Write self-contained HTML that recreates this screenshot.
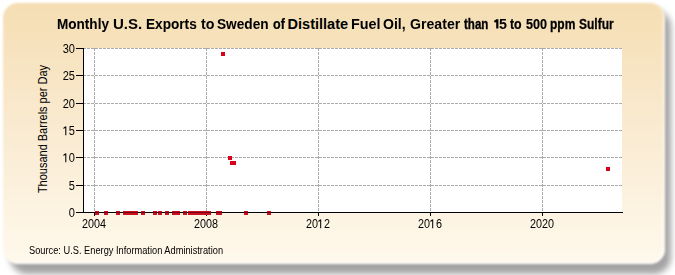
<!DOCTYPE html>
<html><head><meta charset="utf-8"><style>
html,body{margin:0;padding:0;width:675px;height:275px;overflow:hidden;background:#fff;}
body{position:relative;font-family:"Liberation Sans",sans-serif;color:#000;}
.panel{position:absolute;left:2.5px;top:2.5px;width:662px;height:261.5px;border-radius:15px;
background:linear-gradient(to bottom,#f5deb3 0%,#faebd2 50%,#fff9ec 100%);box-shadow:inset -1.5px -1.5px 1.5px rgba(255,255,255,0.95);filter:blur(1.2px);}
.shadow{position:absolute;left:10px;top:10px;width:661px;height:263.5px;border-radius:17px;background:rgba(0,0,0,0.36);filter:blur(3px);}
.title{position:absolute;left:0;top:14px;width:675px;height:20px;font-weight:bold;font-size:14.5px;line-height:20px;white-space:nowrap;color:#000;}
.tw{position:absolute;top:0;transform-origin:0 0;}
svg.one{position:static;vertical-align:top;}
svg{position:absolute;left:0;top:0;}
.yl{position:absolute;left:40px;width:35px;text-align:right;font-size:12px;line-height:14px;color:#000;transform:scaleX(0.92);transform-origin:right 0;}
.xl{position:absolute;top:217px;width:40px;text-align:center;font-size:12px;line-height:14px;color:#000;transform:scaleX(0.9);}
.ytitle{position:absolute;left:43px;top:129px;width:200px;height:14px;margin-left:-100px;margin-top:-7px;text-align:center;font-size:12px;line-height:14px;transform:rotate(-90deg) scaleX(0.915);white-space:nowrap;color:#000;}
.source{position:absolute;left:29px;top:244px;font-size:10px;line-height:14px;transform:scaleX(0.926);transform-origin:0 0;white-space:nowrap;color:#000;}
</style></head><body>
<div class="shadow"></div>
<div class="panel"></div>
<div class="title"><span class="tw" style="left:56.77px;transform:scaleX(0.9345);-webkit-text-stroke:0.07px #000">Monthly</span><span class="tw" style="left:112.56px;transform:scaleX(1.037)">U.S.</span><span class="tw" style="left:146.16px;transform:scaleX(0.9396);-webkit-text-stroke:0.06px #000">Exports</span><span class="tw" style="left:201.2px;transform:scaleX(0.9846)">to</span><span class="tw" style="left:217.06px;transform:scaleX(0.9434);-webkit-text-stroke:0.05px #000">Sweden</span><span class="tw" style="left:272.54px;transform:scaleX(0.8615);-webkit-text-stroke:0.22px #000">of</span><span class="tw" style="left:287.6px;transform:scaleX(1.0)">Distillate</span><span class="tw" style="left:350.61px;transform:scaleX(0.9929)">Fuel</span><span class="tw" style="left:382.83px;transform:scaleX(0.9682)">Oil,</span><span class="tw" style="left:409.93px;transform:scaleX(0.9745)">Greater</span><span class="tw" style="left:464.2px;transform:scaleX(0.7967);-webkit-text-stroke:0.35px #000">than</span><span class="tw" style="left:499.21px;transform:scaleX(0.9857)">5</span><span class="tw" style="left:509.9px;transform:scaleX(0.8538);-webkit-text-stroke:0.23px #000">to</span><span class="tw" style="left:526.23px;transform:scaleX(0.8696);-webkit-text-stroke:0.20px #000">500</span><span class="tw" style="left:550.27px;transform:scaleX(0.8276);-webkit-text-stroke:0.28px #000">ppm</span><span class="tw" style="left:579.17px;transform:scaleX(0.8293);-webkit-text-stroke:0.28px #000">Sulfur</span></div>
<svg width="675" height="275" viewBox="0 0 675 275" shape-rendering="crispEdges">
<rect x="84" y="48" width="538" height="164" fill="#ffffff"/>
<line x1="84" y1="48.5" x2="622" y2="48.5" stroke="#ababab" stroke-width="1" stroke-dasharray="3 1" stroke-dashoffset="1"/>
<line x1="84" y1="75.5" x2="622" y2="75.5" stroke="#ababab" stroke-width="1" stroke-dasharray="3 1" stroke-dashoffset="1"/>
<line x1="84" y1="103.5" x2="622" y2="103.5" stroke="#ababab" stroke-width="1" stroke-dasharray="3 1" stroke-dashoffset="1"/>
<line x1="84" y1="130.5" x2="622" y2="130.5" stroke="#ababab" stroke-width="1" stroke-dasharray="3 1" stroke-dashoffset="1"/>
<line x1="84" y1="157.5" x2="622" y2="157.5" stroke="#ababab" stroke-width="1" stroke-dasharray="3 1" stroke-dashoffset="1"/>
<line x1="84" y1="185.5" x2="622" y2="185.5" stroke="#ababab" stroke-width="1" stroke-dasharray="3 1" stroke-dashoffset="1"/>
<line x1="94.5" y1="48" x2="94.5" y2="212" stroke="#ababab" stroke-width="1" stroke-dasharray="3 1"/>
<line x1="206.5" y1="48" x2="206.5" y2="212" stroke="#ababab" stroke-width="1" stroke-dasharray="3 1"/>
<line x1="318.5" y1="48" x2="318.5" y2="212" stroke="#ababab" stroke-width="1" stroke-dasharray="3 1"/>
<line x1="430.5" y1="48" x2="430.5" y2="212" stroke="#ababab" stroke-width="1" stroke-dasharray="3 1"/>
<line x1="542.5" y1="48" x2="542.5" y2="212" stroke="#ababab" stroke-width="1" stroke-dasharray="3 1"/>
<line x1="76" y1="48.5" x2="83" y2="48.5" stroke="#000" stroke-width="1"/>
<line x1="76" y1="75.5" x2="83" y2="75.5" stroke="#000" stroke-width="1"/>
<line x1="76" y1="103.5" x2="83" y2="103.5" stroke="#000" stroke-width="1"/>
<line x1="76" y1="130.5" x2="83" y2="130.5" stroke="#000" stroke-width="1"/>
<line x1="76" y1="157.5" x2="83" y2="157.5" stroke="#000" stroke-width="1"/>
<line x1="76" y1="185.5" x2="83" y2="185.5" stroke="#000" stroke-width="1"/>
<line x1="76" y1="212.5" x2="83" y2="212.5" stroke="#000" stroke-width="1"/>
<line x1="94.5" y1="212" x2="94.5" y2="216" stroke="#000" stroke-width="1"/>
<line x1="206.5" y1="212" x2="206.5" y2="216" stroke="#000" stroke-width="1"/>
<line x1="318.5" y1="212" x2="318.5" y2="216" stroke="#000" stroke-width="1"/>
<line x1="430.5" y1="212" x2="430.5" y2="216" stroke="#000" stroke-width="1"/>
<line x1="542.5" y1="212" x2="542.5" y2="216" stroke="#000" stroke-width="1"/>
<rect x="95" y="211" width="4" height="4" fill="#c8101e"/>
<rect x="104" y="211" width="4" height="4" fill="#c8101e"/>
<rect x="116" y="211" width="4" height="4" fill="#c8101e"/>
<rect x="123" y="211" width="15" height="4" fill="#c8101e"/>
<rect x="141" y="211" width="4" height="4" fill="#c8101e"/>
<rect x="153" y="211" width="4" height="4" fill="#c8101e"/>
<rect x="158" y="211" width="4" height="4" fill="#c8101e"/>
<rect x="165" y="211" width="4" height="4" fill="#c8101e"/>
<rect x="172" y="211" width="8" height="4" fill="#c8101e"/>
<rect x="183" y="211" width="4" height="4" fill="#c8101e"/>
<rect x="188" y="211" width="23" height="4" fill="#c8101e"/>
<rect x="216" y="211" width="6" height="4" fill="#c8101e"/>
<rect x="244" y="211" width="4" height="4" fill="#c8101e"/>
<rect x="267" y="211" width="4" height="4" fill="#c8101e"/>
<rect x="221" y="52" width="4" height="4" fill="#d8001a"/>
<rect x="228" y="156" width="4" height="4" fill="#d8001a"/>
<rect x="230" y="161" width="6" height="4" fill="#d8001a"/>
<rect x="606" y="167" width="4" height="4" fill="#d8001a"/>
<line x1="83.5" y1="48" x2="83.5" y2="213" stroke="#000" stroke-width="1"/>
<line x1="83" y1="212.5" x2="623" y2="212.5" stroke="#000" stroke-width="1"/>
<rect x="95" y="212" width="4" height="1" fill="#780012"/>
<rect x="104" y="212" width="4" height="1" fill="#780012"/>
<rect x="116" y="212" width="4" height="1" fill="#780012"/>
<rect x="123" y="212" width="15" height="1" fill="#780012"/>
<rect x="141" y="212" width="4" height="1" fill="#780012"/>
<rect x="153" y="212" width="4" height="1" fill="#780012"/>
<rect x="158" y="212" width="4" height="1" fill="#780012"/>
<rect x="165" y="212" width="4" height="1" fill="#780012"/>
<rect x="172" y="212" width="8" height="1" fill="#780012"/>
<rect x="183" y="212" width="4" height="1" fill="#780012"/>
<rect x="188" y="212" width="23" height="1" fill="#780012"/>
<rect x="216" y="212" width="6" height="1" fill="#780012"/>
<rect x="244" y="212" width="4" height="1" fill="#780012"/>
<rect x="267" y="212" width="4" height="1" fill="#780012"/>
<path d="M497.3 19.3V28.5M497.45 20.0L494.4 21.9" stroke="#000" stroke-width="2.2" fill="none" shape-rendering="geometricPrecision"/>
</svg>
<div class="yl" style="top:42px">30</div>
<div class="yl" style="top:69px">25</div>
<div class="yl" style="top:97px">20</div>
<div class="yl" style="top:124px"><svg class="one" width="6.67" height="14" viewBox="0 0 6.67 14"><path d="M3.0 2.5V11.2M3.0 2.6L0.5 4.5" stroke="#000" stroke-width="1.15" fill="none"/></svg>5</div>
<div class="yl" style="top:151px"><svg class="one" width="6.67" height="14" viewBox="0 0 6.67 14"><path d="M3.0 2.5V11.2M3.0 2.6L0.5 4.5" stroke="#000" stroke-width="1.15" fill="none"/></svg>0</div>
<div class="yl" style="top:179px">5</div>
<div class="yl" style="top:206px">0</div>
<div class="xl" style="left:74px">2004</div>
<div class="xl" style="left:186px">2008</div>
<div class="xl" style="left:298px">20<svg class="one" width="6.67" height="14" viewBox="0 0 6.67 14"><path d="M3.0 2.5V11.2M3.0 2.6L0.5 4.5" stroke="#000" stroke-width="1.15" fill="none"/></svg>2</div>
<div class="xl" style="left:410px">20<svg class="one" width="6.67" height="14" viewBox="0 0 6.67 14"><path d="M3.0 2.5V11.2M3.0 2.6L0.5 4.5" stroke="#000" stroke-width="1.15" fill="none"/></svg>6</div>
<div class="xl" style="left:522px">2020</div>
<div class="ytitle">Thousand Barrels per Day</div>
<div class="source">Source: U.S. Energy Information Administration</div>
</body></html>
